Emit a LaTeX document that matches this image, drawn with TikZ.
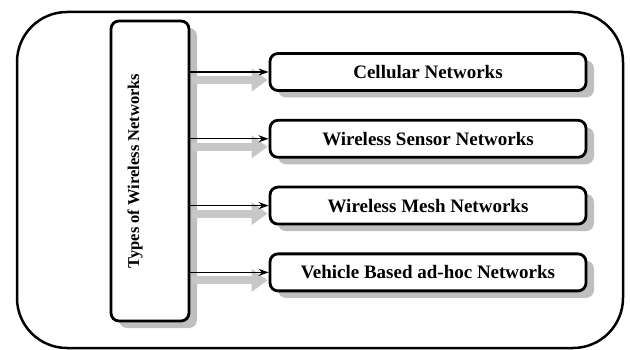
\documentclass[tikz,border=0pt]{standalone}
\usepackage{fontspec}
\setmainfont{Liberation Serif}
\usetikzlibrary{arrows.meta,shadows,positioning}

\begin{document}
\begin{tikzpicture}[x=1pt,y=-1pt,
  boxshadow/.style={drop shadow={shadow xshift=8pt,shadow yshift=-7pt,fill=black!25,opacity=1}},
  netbox/.style={draw,line width=2.8pt,rounded corners=8pt,fill=white,boxshadow,
    minimum width=316pt,minimum height=37pt,font=\fontsize{19}{22}\selectfont\bfseries},
  link/.style={line width=1.3pt,-{Stealth[length=10pt,width=7pt]}},
  linkshadow/.style={line width=8pt,black!22,-{Triangle[length=16pt,width=22pt]}}]
\useasboundingbox (0,0) rectangle (630,350);
\draw [line width=2.5pt,rounded corners=50pt] (17,12) rectangle (623,348);

\node [draw,line width=2.8pt,rounded corners=8pt,fill=white,boxshadow,
  minimum width=78pt,minimum height=300pt] (types) at (150,171) {};
\node [rotate=90,font=\fontsize{16.5}{20}\selectfont\bfseries] (typestext) at (135,171) {Types of Wireless Networks};

\node [netbox] (cell) at (428,72) {Cellular Networks};
\node [netbox,below=27pt of cell] (wsn) {Wireless Sensor Networks};
\node [netbox,below=27pt of wsn] (wmn) {Wireless Mesh Networks};
\node [netbox,below=27pt of wmn] (vanet) {Vehicle Based ad-hoc Networks};

\foreach \n in {cell,wsn,wmn,vanet}{
  \draw [linkshadow] ([xshift=2pt,yshift=-8pt]types.east |- \n.west) -- ([xshift=-1pt,yshift=-8pt]\n.west);
  \draw [link] (types.east |- \n.west) -- (\n.west);
}
\end{tikzpicture}
\end{document}
